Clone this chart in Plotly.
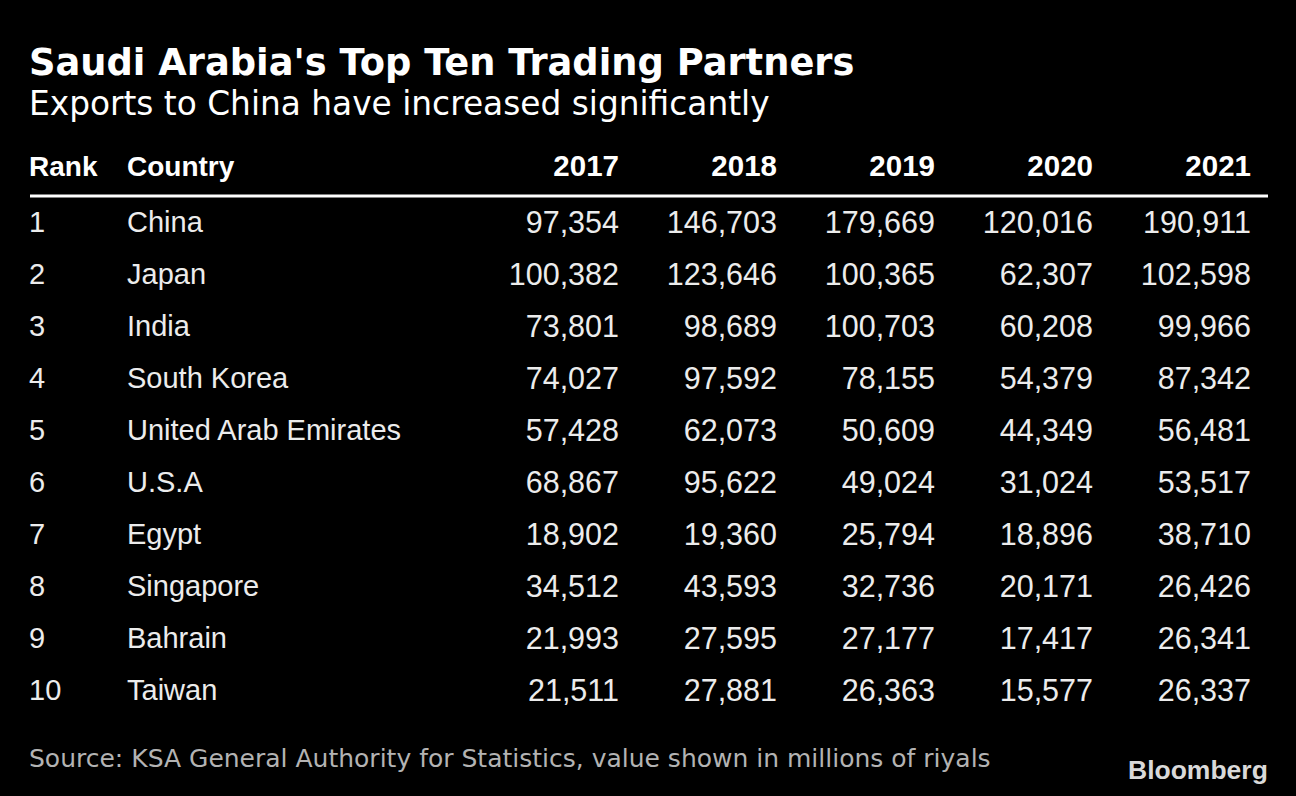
import plotly.graph_objects as go

ranks = ["1", "2", "3", "4", "5", "6", "7", "8", "9", "10"]
countries = ["China", "Japan", "India", "South Korea", "United Arab Emirates",
             "U.S.A", "Egypt", "Singapore", "Bahrain", "Taiwan"]
years = ["2017", "2018", "2019", "2020", "2021"]
v2017 = [97354, 100382, 73801, 74027, 57428, 68867, 18902, 34512, 21993, 21511]
v2018 = [146703, 123646, 98689, 97592, 62073, 95622, 19360, 43593, 27595, 27881]
v2019 = [179669, 100365, 100703, 78155, 50609, 49024, 25794, 32736, 27177, 26363]
v2020 = [120016, 62307, 60208, 54379, 44349, 31024, 18896, 20171, 17417, 15577]
v2021 = [190911, 102598, 99966, 87342, 56481, 53517, 38710, 26426, 26341, 26337]
values = [v2017, v2018, v2019, v2020, v2021]

title = "Saudi Arabia's Top Ten Trading Partners"
subtitle = "Exports to China have increased significantly"
source = "Source: KSA General Authority for Statistics, value shown in millions of riyals"

W, H = 1296, 796
ROW0, ROWSTEP = 225, 52
HEADER_Y = 169
RANK_X, COUNTRY_X = 29, 127
COL_RIGHT = [619, 777, 935, 1093, 1251]
BODY_FONT = dict(family="Liberation Sans, Arial", size=29, color="#ececec")
NUM_FONT = dict(family="Liberation Sans, Arial", size=30.5, color="#ececec")
HEAD_FONT = dict(family="Liberation Sans, Arial", size=28, color="#ffffff")
YEAR_FONT = dict(family="Liberation Sans, Arial", size=29.5, color="#ffffff")

row_y = [ROW0 + i * ROWSTEP for i in range(len(ranks))]

fig = go.Figure()
fig.add_trace(go.Scatter(x=[RANK_X] * len(ranks), y=row_y, text=ranks, mode="text",
                         textposition="middle right", textfont=BODY_FONT, hoverinfo="skip"))
fig.add_trace(go.Scatter(x=[COUNTRY_X] * len(countries), y=row_y, text=countries, mode="text",
                         textposition="middle right", textfont=BODY_FONT, hoverinfo="skip"))
for xr, col in zip(COL_RIGHT, values):
    fig.add_trace(go.Scatter(x=[xr] * len(col), y=row_y, text=[f"{v:,}" for v in col],
                             mode="text", textposition="middle left", textfont=NUM_FONT,
                             hoverinfo="skip"))

# header
fig.add_trace(go.Scatter(x=[RANK_X, COUNTRY_X], y=[HEADER_Y, HEADER_Y], text=["<b>Rank</b>", "<b>Country</b>"],
                         mode="text", textposition="middle right", textfont=HEAD_FONT, hoverinfo="skip"))
fig.add_trace(go.Scatter(x=COL_RIGHT, y=[HEADER_Y] * len(years), text=[f"<b>{y}</b>" for y in years],
                         mode="text", textposition="middle left", textfont=YEAR_FONT, hoverinfo="skip"))

fig.add_shape(type="line", x0=30, x1=1268, y0=196, y1=196, xref="x", yref="y",
              line=dict(color="#ffffff", width=3))

fig.add_annotation(x=27, y=62, xref="x", yref="y", text="<b>" + title + "</b>", showarrow=False,
                   xanchor="left", yanchor="middle",
                   font=dict(family="DejaVu Sans", size=36.8, color="#ffffff"))
fig.add_annotation(x=27, y=104, xref="x", yref="y", text=subtitle, showarrow=False,
                   xanchor="left", yanchor="middle",
                   font=dict(family="DejaVu Sans", size=32.8, color="#ffffff"))
fig.add_annotation(x=27, y=758, xref="x", yref="y", text=source, showarrow=False,
                   xanchor="left", yanchor="middle",
                   font=dict(family="DejaVu Sans", size=25, color="#b3b3b3"))
fig.add_annotation(x=1270, y=770, xref="x", yref="y", text="<b>Bloomberg</b>", showarrow=False,
                   xanchor="right", yanchor="middle",
                   font=dict(family="Liberation Sans, Arial", size=26.5, color="#d9d9d9"))

fig.update_layout(
    width=W, height=H,
    margin=dict(l=0, r=0, t=0, b=0),
    paper_bgcolor="#000000", plot_bgcolor="#000000",
    showlegend=False,
    xaxis=dict(range=[0, W], visible=False, fixedrange=True),
    yaxis=dict(range=[H, 0], visible=False, fixedrange=True),
)

fig.write_html("out.html", config={"displayModeBar": False},
               post_script="document.body.style.margin='0';document.body.style.background='#000';"
                           "document.body.style.overflow='hidden';")
